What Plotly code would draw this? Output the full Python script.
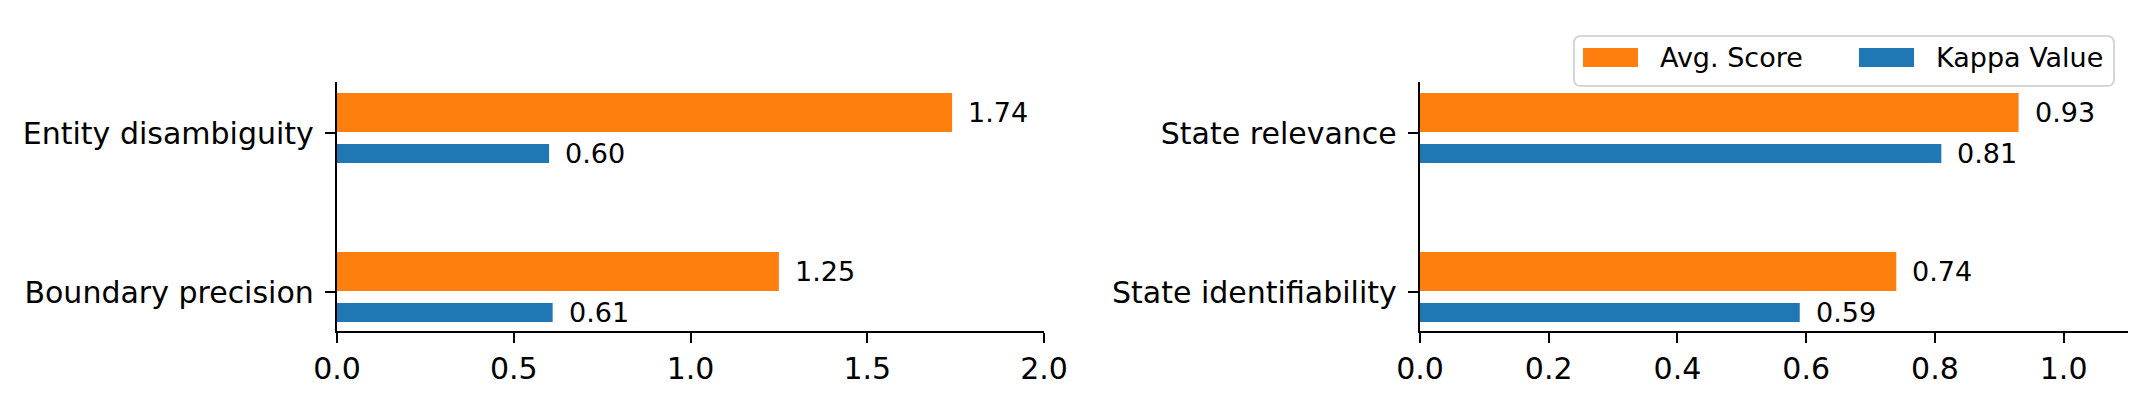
import plotly.graph_objects as go

# ---------------- data ----------------
left_categories = ["Boundary precision", "Entity disambiguity"]   # bottom -> top
left_avg_score = [1.25, 1.74]
left_kappa = [0.61, 0.60]

right_categories = ["State identifiability", "State relevance"]   # bottom -> top
right_avg_score = [0.74, 0.93]
right_kappa = [0.59, 0.81]

series_names = ["Avg. Score", "Kappa Value"]
left_xticks = [0.0, 0.5, 1.0, 1.5, 2.0]
right_xticks = [0.0, 0.2, 0.4, 0.6, 0.8, 1.0]

# ---------------- style ----------------
W, H = 2152, 400
BODY = 8                      # default page margin of the html body
FW, FH = W - BODY, H - BODY   # figure size
ORANGE = "#ff7f0e"
BLUE = "#1f77b4"
FONT = "DejaVu Sans"
TICK_FS = 30
LABEL_FS = 27
AVG_OFF, AVG_W = 0.129, 0.245
KAP_OFF, KAP_W = -0.129, 0.12
Y_RANGE = [-0.245, 1.321]


def px_x(p):
    return (p - BODY) / FW


def px_y(p):
    return 1 - (p - BODY) / FH


fig = go.Figure()
annotations = []


def add_panel(cats, avg, kap, xa, ya):
    pos = list(range(len(cats)))
    fig.add_trace(go.Bar(
        x=avg, y=[p + AVG_OFF for p in pos], width=AVG_W, orientation="h",
        marker=dict(color=ORANGE, line=dict(width=0)), name=series_names[0],
        xaxis=xa, yaxis=ya, showlegend=False))
    fig.add_trace(go.Bar(
        x=kap, y=[p + KAP_OFF for p in pos], width=KAP_W, orientation="h",
        marker=dict(color=BLUE, line=dict(width=0)), name=series_names[1],
        xaxis=xa, yaxis=ya, showlegend=False))
    for vals, off in ((avg, AVG_OFF), (kap, KAP_OFF)):
        for p, v in zip(pos, vals):
            annotations.append(dict(
                x=v, y=p + off, xref=xa, yref=ya, text=f"{v:.2f}",
                showarrow=False, xanchor="left", yanchor="middle",
                xshift=14, font=dict(family=FONT, size=LABEL_FS, color="black")))


add_panel(left_categories, left_avg_score, left_kappa, "x", "y")
add_panel(right_categories, right_avg_score, right_kappa, "x2", "y2")

axis_common = dict(
    showgrid=False, zeroline=False, showline=True, linecolor="black",
    linewidth=2.4, ticks="outside", ticklen=10, tickwidth=2.4,
    tickcolor="black", automargin=False,
    tickfont=dict(family=FONT, size=TICK_FS, color="black"),
)

fig.update_layout(
    width=FW, height=FH,
    margin=dict(l=0, r=0, t=0, b=0),
    paper_bgcolor="white", plot_bgcolor="white",
    barmode="overlay",
    xaxis=dict(domain=[px_x(337), px_x(1044)], range=[0, 2.0],
               tickvals=left_xticks, tickformat=".1f", anchor="y",
               **axis_common),
    yaxis=dict(domain=[px_y(331), px_y(82)], range=Y_RANGE,
               tickvals=list(range(len(left_categories))),
               ticktext=left_categories, anchor="x",
               ticklabelstandoff=5, **axis_common),
    xaxis2=dict(domain=[px_x(1420), px_x(2128)], range=[0, 1.1],
                tickvals=right_xticks, tickformat=".1f", anchor="y2",
                **axis_common),
    yaxis2=dict(domain=[px_y(331), px_y(82)], range=Y_RANGE,
                tickvals=list(range(len(right_categories))),
                ticktext=right_categories, anchor="x2",
                ticklabelstandoff=5, **axis_common),
)

# ---------------- legend (matplotlib-style box) ----------------
lx0, lx1, ly0, ly1, r = 1574, 2114, 36, 86, 7
path = (
    f"M {px_x(lx0 + r)},{px_y(ly0)} L {px_x(lx1 - r)},{px_y(ly0)} "
    f"Q {px_x(lx1)},{px_y(ly0)} {px_x(lx1)},{px_y(ly0 + r)} "
    f"L {px_x(lx1)},{px_y(ly1 - r)} "
    f"Q {px_x(lx1)},{px_y(ly1)} {px_x(lx1 - r)},{px_y(ly1)} "
    f"L {px_x(lx0 + r)},{px_y(ly1)} "
    f"Q {px_x(lx0)},{px_y(ly1)} {px_x(lx0)},{px_y(ly1 - r)} "
    f"L {px_x(lx0)},{px_y(ly0 + r)} "
    f"Q {px_x(lx0)},{px_y(ly0)} {px_x(lx0 + r)},{px_y(ly0)} Z"
)
shapes = [dict(type="path", path=path, xref="paper", yref="paper",
               line=dict(color="#d6d6d6", width=2), fillcolor="white")]

legend_items = [(series_names[0], ORANGE, 1583), (series_names[1], BLUE, 1859)]
for name, col, sx in legend_items:
    shapes.append(dict(type="rect", xref="paper", yref="paper",
                       x0=px_x(sx), x1=px_x(sx + 55), y0=px_y(67), y1=px_y(48),
                       fillcolor=col, line=dict(width=0)))
    annotations.append(dict(
        x=px_x(sx + 55 + 20), y=px_y(57.5), xref="paper", yref="paper",
        text=name, showarrow=False, xanchor="left", yanchor="middle",
        font=dict(family=FONT, size=LABEL_FS, color="black")))

fig.update_layout(shapes=shapes, annotations=annotations)

fig.write_html("out.html")
